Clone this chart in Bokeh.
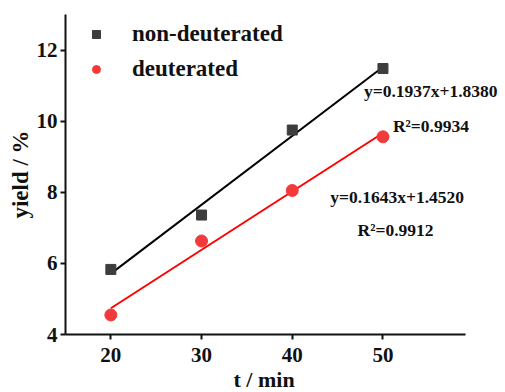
import numpy as np
from bokeh.plotting import figure
from bokeh.models import Range1d, Legend, LegendItem, Label, FixedTicker, Title
from bokeh.embed import file_html
from bokeh.resources import INLINE

# data
t_min = [20, 30, 40, 50]
yield_nondeut = [5.83, 7.36, 9.75, 11.48]
yield_deut = [4.55, 6.63, 8.05, 9.56]
fit_slope = [0.1937, 0.1643]
fit_intercept = [1.8380, 1.4520]
fit_eq_labels = ["y=0.1937x+1.8380", "y=0.1643x+1.4520"]
fit_r2_labels = ["R\u00b2=0.9934", "R\u00b2=0.9912"]
x_ticks = [20, 30, 40, 50]
y_ticks = [4, 6, 8, 10, 12]

FONT = "Liberation Serif"
GRAY = "#3d3d3d"
RED = "#f23a3a"

X0, X1 = 15, 59.1          # axis extent
PX_PER_UNIT = 400 / (X1 - X0)
FRAME_W = 434
x_end = X0 + FRAME_W / PX_PER_UNIT

p = figure(frame_width=FRAME_W, frame_height=320, width=65 + FRAME_W, height=390,
           min_border_left=65, min_border_right=0, min_border_top=14, min_border_bottom=56,
           output_backend="svg", toolbar_location=None,
           x_range=Range1d(X0, x_end), y_range=Range1d(4, 13))
p.outline_line_color = None
p.grid.visible = False
p.background_fill_color = "white"

for ax in (p.xaxis[0], p.yaxis[0]):
    ax.axis_line_width = 2
    ax.axis_line_color = "#111111"
    ax.major_tick_line_width = 2
    ax.major_tick_line_color = "#111111"
    ax.major_tick_in = 0
    ax.major_tick_out = 5
    ax.minor_tick_line_color = None
    ax.major_label_text_font = FONT
    ax.major_label_text_font_style = "bold"
    ax.major_label_text_font_size = "21px"
    ax.major_label_text_color = "#111111"
    ax.axis_label_text_font = FONT
    ax.axis_label_text_font_style = "bold"
    ax.axis_label_text_font_size = "23px"
    ax.axis_label_text_color = "#111111"

p.xaxis.bounds = (X0, X1)
p.xaxis.ticker = FixedTicker(ticks=x_ticks)
p.yaxis.ticker = FixedTicker(ticks=y_ticks)
p.yaxis.axis_label = "yield / %"
p.xaxis.major_label_standoff = 8
p.yaxis.major_label_standoff = 3
p.yaxis.axis_label_standoff = 1

xt = Title(text="t / min", align="left", offset=168,
           text_font=FONT, text_font_style="bold", text_font_size="22px",
           text_color="#111111", standoff=1)
p.add_layout(xt, "below")

# fit lines
xs_fit = np.array([t_min[0], t_min[-1]], dtype=float)
p.line(xs_fit, fit_slope[0] * xs_fit + fit_intercept[0], line_color="black", line_width=2)
p.line(xs_fit, fit_slope[1] * xs_fit + fit_intercept[1], line_color="red", line_width=2)

r1 = p.scatter(t_min, yield_nondeut, marker="square", size=10, fill_color=GRAY, line_color=GRAY)
r2 = p.scatter(t_min, yield_deut, marker="circle", size=12, fill_color=RED, line_color=RED)

legend = Legend(items=[LegendItem(label="non-deuterated", renderers=[r1]),
                       LegendItem(label="deuterated", renderers=[r2])],
                location=(21, 252), padding=10, margin=0, spacing=9,
                glyph_width=20, glyph_height=20, label_height=20, label_standoff=26,
                label_text_font=FONT, label_text_font_style="bold",
                label_text_font_size="23px", label_text_color="#111111",
                border_line_color=None, background_fill_alpha=0)
p.add_layout(legend)

ann_style = dict(text_font=FONT, text_font_style="bold", text_font_size="17.5px",
                 text_color="#111111", text_baseline="middle")
p.add_layout(Label(x=47.9, y=10.86, text=fit_eq_labels[0], **ann_style))
p.add_layout(Label(x=51.1, y=9.87, text=fit_r2_labels[0], **ann_style))
p.add_layout(Label(x=44.2, y=7.88, text=fit_eq_labels[1], **ann_style))
p.add_layout(Label(x=47.2, y=6.93, text=fit_r2_labels[1], **ann_style))

open("out.html", "w").write(file_html(p, INLINE))
